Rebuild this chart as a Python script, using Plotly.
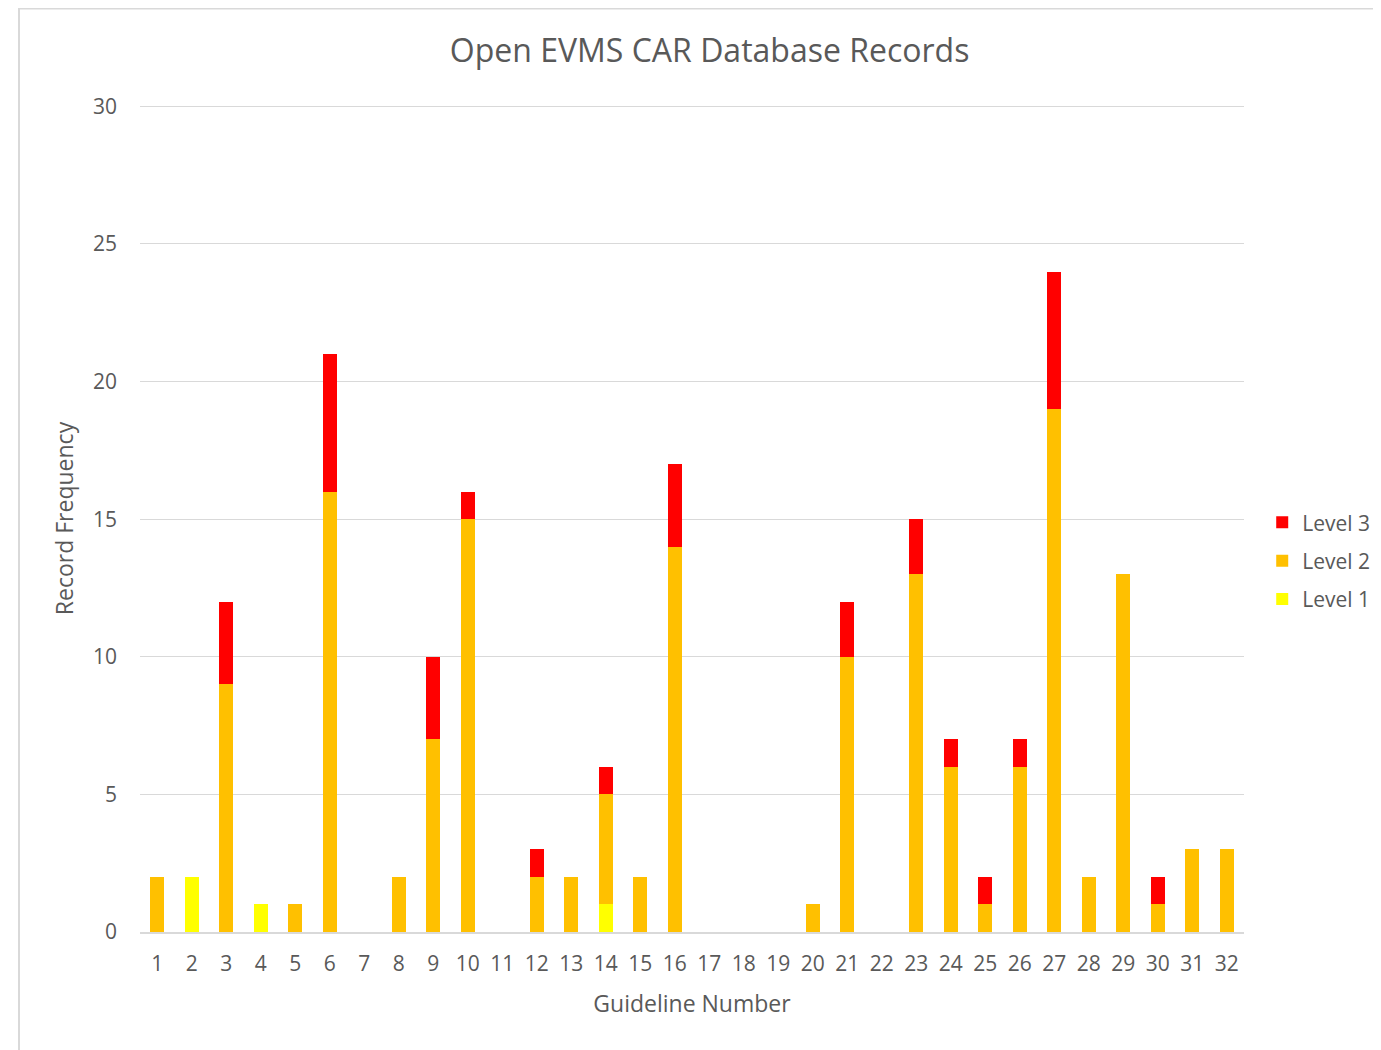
import plotly.graph_objects as go

guidelines = [str(i) for i in range(1, 33)]
level1 = [0, 2, 0, 1, 0, 0, 0, 0, 0, 0, 0, 0, 0, 1, 0, 0, 0, 0, 0, 0, 0, 0, 0, 0, 0, 0, 0, 0, 0, 0, 0, 0]
level2 = [2, 0, 9, 0, 1, 16, 0, 2, 7, 15, 0, 2, 2, 4, 2, 14, 0, 0, 0, 1, 10, 0, 13, 6, 1, 6, 19, 2, 13, 1, 3, 3]
level3 = [0, 0, 3, 0, 0, 5, 0, 0, 3, 1, 0, 1, 0, 1, 0, 3, 0, 0, 0, 0, 2, 0, 2, 1, 1, 1, 5, 0, 0, 1, 0, 0]

fig = go.Figure()
fig.add_trace(go.Bar(x=guidelines, y=level1, name="Level 1", legendgroup="l1", legendrank=3,
                     marker=dict(color="#FFFF00", line=dict(width=0))))
fig.add_trace(go.Bar(x=guidelines, y=level2, name="Level 2", legendgroup="l2", legendrank=2,
                     marker=dict(color="#FFC000", line=dict(width=0))))
fig.add_trace(go.Bar(x=guidelines, y=level3, name="Level 3", legendgroup="l3", legendrank=1,
                     marker=dict(color="#FF0000", line=dict(width=0))))

fig.update_layout(
    barmode="stack",
    bargap=0.6,
    width=1373, height=1042,
    margin=dict(l=132, r=137, t=97, b=118, autoexpand=False),
    paper_bgcolor="white", plot_bgcolor="white",
    font=dict(family="Open Sans, Liberation Sans, sans-serif", color="#595959", size=20),
    title=dict(text="Open EVMS CAR Database Records", x=0.511, xanchor="center", y=0.9587, yanchor="middle",
               font=dict(size=32, color="#595959")),
    legend=dict(traceorder="grouped", x=1.0165, xanchor="left", y=0.449, yanchor="middle",
                font=dict(size=21, color="#595959"), itemwidth=30, tracegroupgap=8),
    showlegend=True,
    shapes=[dict(type="rect", xref="paper", yref="paper", x0=-0.1096, x1=1.3, y0=-0.3, y1=1.1168,
                 line=dict(color="#D9D9D9", width=2), fillcolor="rgba(0,0,0,0)", layer="below")],
)
fig.update_xaxes(
    title=dict(text="Guideline Number", font=dict(size=23, color="#595959"), standoff=20),
    showgrid=False, showline=True, linecolor="#D9D9D9", linewidth=2,
    ticks="", tickfont=dict(size=21, color="#595959"), ticklabelstandoff=12,
)
fig.update_yaxes(
    title=dict(text="Record Frequency", font=dict(size=23, color="#595959"), standoff=12),
    range=[0, 30.05], tickvals=[0, 5, 10, 15, 20, 25, 30], showgrid=True, gridcolor="#D9D9D9", gridwidth=1,
    zeroline=False, showline=False, ticks="", tickfont=dict(size=21, color="#595959"), ticklabelstandoff=22,
)

fig.write_html("out.html")
